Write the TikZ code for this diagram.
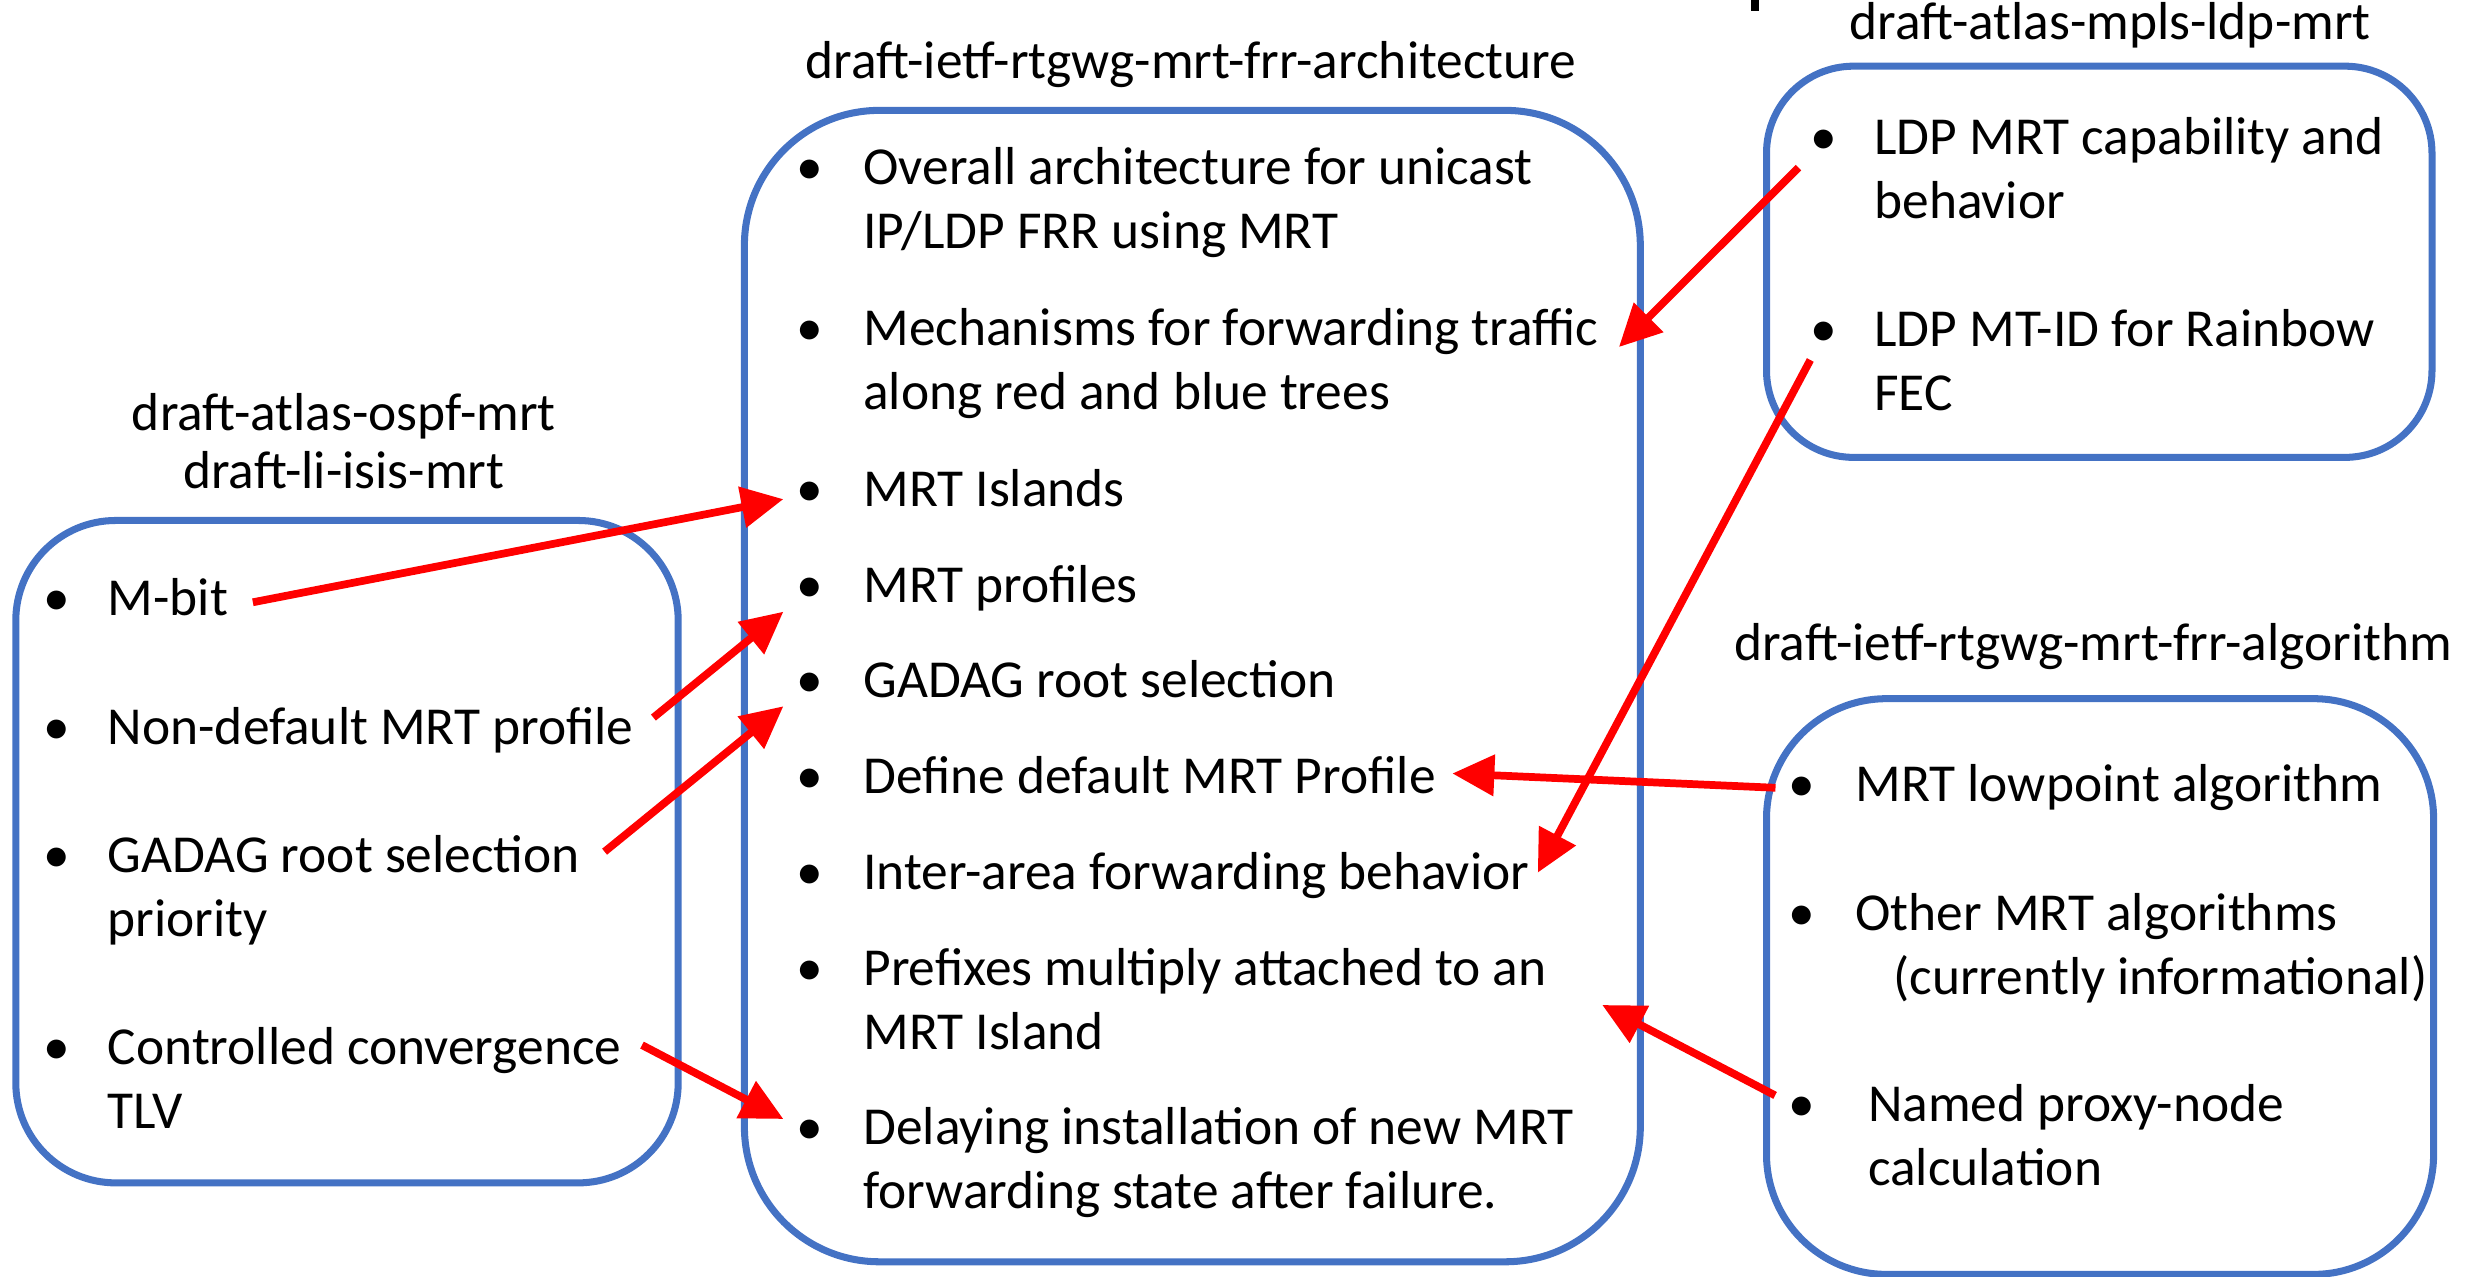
\documentclass[tikz,border=0pt]{standalone}
\usepackage{fontspec}
\setmainfont{Carlito}
\usetikzlibrary{arrows.meta,positioning,calc}
\definecolor{boxblue}{HTML}{4472C4}
\definecolor{linkred}{HTML}{FF0000}

% bullet item: [bullet gap]{name}{text position}{text}
\newcommand{\mrtitem}[4][0.53]{%
  \node[itm, anchor=base west] (#2) at (#3)
    {\begin{tabular}[t]{@{}l@{}}#4\end{tabular}};
  \node[bul, anchor=base] (#2-b) at ($(#2.base west)+(-#1,0)$) {\textbullet};}

\begin{document}
\begin{tikzpicture}[
    itm/.style={inner sep=0pt, font=\fontsize{15.2}{18.2}\selectfont},
    ttl/.style={inner sep=0pt, align=center, font=\fontsize{15.2}{16.6}\selectfont},
    bul/.style={inner sep=0pt, outer sep=0.13cm, font=\fontsize{15.2}{18.2}\selectfont},
    grp/.style={draw=boxblue, line width=2pt},
    link/.style={draw=linkred, line width=2.2pt, -{Triangle[length=0.42cm, width=0.4cm]}}]

  \useasboundingbox (0,0) rectangle (24.73,12.77);

  % boxes
  \draw[grp, rounded corners=1.0cm]  (0.158,0.941) rectangle (6.782,7.565);
  \draw[grp, rounded corners=1.35cm] (7.444,0.152) rectangle (16.403,11.666);
  \draw[grp, rounded corners=0.87cm] (17.665,8.196) rectangle (24.320,12.108);
  \draw[grp, rounded corners=1.2cm]  (17.665,0.026) rectangle (24.336,5.783);

  % titles
  \node[ttl, anchor=base] (tarch) at (11.908,11.981) {draft-ietf-rtgwg-mrt-frr-architecture};
  \node[ttl, anchor=base] (tospf) at (3.438,7.881) {draft-atlas-ospf-mrt\\draft-li-isis-mrt};
  \node[ttl, anchor=base] (tldp)  at (21.103,12.376) {draft-atlas-mpls-ldp-mrt};
  \node[ttl, anchor=base] (talg)  at (20.93,6.162) {draft-ietf-rtgwg-mrt-frr-algorithm};
  \fill (17.51,12.66) rectangle (17.59,12.77);

  % architecture
  \mrtitem{cover}{8.627,10.925}{Overall architecture for unicast\\IP/LDP FRR using MRT}
  \mrtitem{cmech}{8.627,9.316}{Mechanisms for forwarding traffic\\along red and blue trees}
  \mrtitem{cisl}{8.627,7.707}{MRT Islands}
  \mrtitem{cprof}{8.627,6.745}{MRT profiles}
  \mrtitem{cgad}{8.627,5.799}{GADAG root selection}
  \mrtitem{cdef}{8.627,4.837}{Define default MRT Profile}
  \mrtitem{cinter}{8.627,3.875}{Inter-area forwarding behavior}
  \mrtitem{cpref}{8.627,2.912}{Prefixes multiply attached to an\\MRT Island}
  \mrtitem{cdelay}{8.627,1.320}{Delaying installation of new MRT\\forwarding state after failure.}

  % ospf / isis
  \mrtitem[0.5]{lmbit}{1.072,6.619}{M-bit}
  \mrtitem[0.5]{lnondef}{1.072,5.326}{Non-default MRT profile}
  \mrtitem[0.5]{lgad}{1.072,4.048}{GADAG root selection\\priority}
  \mrtitem[0.5]{lconv}{1.072,2.124}{Controlled convergence\\TLV}

  % ldp
  \mrtitem[0.5]{rcap}{18.737,11.224}{LDP MRT capability and\\behavior}
  \mrtitem[0.5]{rmtid}{18.737,9.300}{LDP MT-ID for Rainbow\\FEC}

  % algorithm
  \mrtitem{blow}{18.548,4.758}{MRT lowpoint algorithm}
  \mrtitem{bother}{18.548,3.465}{Other MRT algorithms\\\hspace*{0.38cm}(currently informational)}
  \mrtitem[0.66]{bproxy}{18.674,1.556}{Named proxy-node\\calculation}

  % links
  \draw[link] ([xshift=0.24cm]lmbit.east) -- (cisl-b);
  \draw[link] ([shift={(0.19,0.14)}]lnondef.east) -- (cprof-b);
  \draw[link] ([shift={(0.24,-0.25)}]lgad.north east) -- (cgad-b);
  \draw[link] ([shift={(0.2,-0.26)}]lconv.north east) -- (cdelay-b);
  \draw[link] (rcap-b) -- ([shift={(0.2,0.175)}]cmech.east);
  \draw[link] (rmtid-b) -- ([shift={(0.08,0.04)}]cinter.east);
  \draw[link] (blow-b) -- ([shift={(0.16,0.07)}]cdef.east);
  \draw[link] (bproxy-b) -- ([xshift=0.55cm]cpref.east);
\end{tikzpicture}
\end{document}
